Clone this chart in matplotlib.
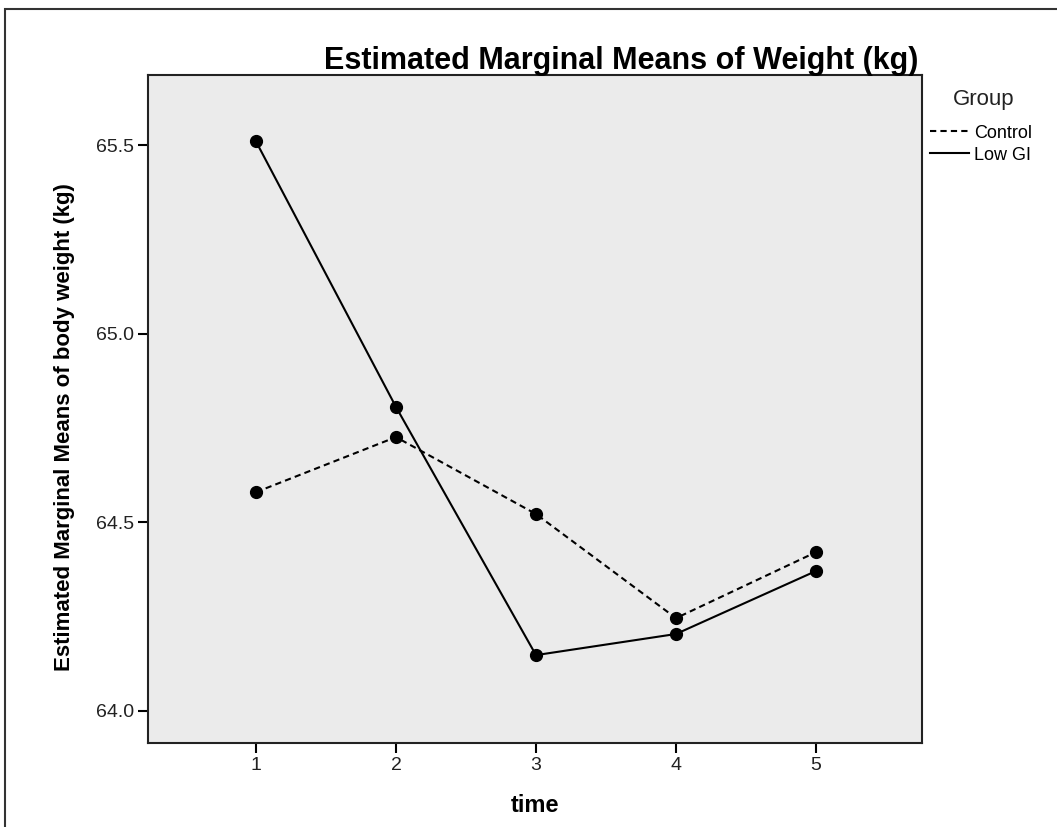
import matplotlib.pyplot as plt
from matplotlib.patches import Rectangle

# estimated marginal means
times = [1, 2, 3, 4, 5]
control = [64.58, 64.726, 64.522, 64.246, 64.421]
low_gi = [65.51, 64.806, 64.148, 64.204, 64.371]
y_ticks = [64.0, 64.5, 65.0, 65.5]

plt.rcParams['font.family'] = ['Liberation Sans', 'DejaVu Sans']

W, H = 1057, 827
fig = plt.figure(figsize=(W / 100, H / 100), dpi=100)

# outer frame of the chart window (runs off the right/bottom edge)
fig.patches.append(Rectangle((5 / W, -0.05), 1.2, 1 - 9 / H + 0.05,
                             transform=fig.transFigure, fill=False,
                             edgecolor='#333333', linewidth=1.5))

ax = fig.add_axes([148 / W, 1 - 743 / H, (922 - 148) / W, (743 - 75) / H])
ax.set_facecolor('#ebebeb')

ax.plot(times, control, color='black', linestyle=(0, (3, 2)), linewidth=1.5,
        marker='o', markersize=8.5, label='Control')
ax.plot(times, low_gi, color='black', linestyle='-', linewidth=1.5,
        marker='o', markersize=8.5, label='Low GI')

ax.set_xlim(0.229, 5.757)
ax.set_ylim(63.915, 65.686)
ax.set_xticks(times)
ax.set_yticks(y_ticks)
ax.set_yticklabels([f"{v:.1f}" for v in y_ticks])
ax.tick_params(direction='out', length=7, width=1.5, labelsize=14,
               labelcolor='#222222', pad=3)
for s in ax.spines.values():
    s.set_linewidth(1.5)
    s.set_color('#222222')

ax.set_xlabel('time', fontsize=17, fontweight='bold')
ax.xaxis.set_label_coords(0.5, -(794 - 743) / 668)
ax.set_ylabel('Estimated Marginal Means of body weight (kg)', fontsize=16,
              fontweight='bold')
ax.yaxis.set_label_coords((75 - 148) / 774, (743 - 427) / 668)

fig.text(918 / W, 1 - 61 / H, 'Estimated Marginal Means of Weight (kg)',
         ha='right', va='center', fontsize=22, fontweight='bold')

# legend title placed on its own, entries below it
fig.text(984 / W, 1 - 100 / H, 'Group', ha='center', va='center',
         fontsize=16, color='#222222')
leg = fig.legend(loc='upper left', bbox_to_anchor=(917 / W, 1 - 112 / H),
                 frameon=False, fontsize=13,
                 handlelength=2.2, handletextpad=0.25, labelspacing=0.27,
                 borderpad=0.2)
for h in leg.legend_handles:
    h.set_marker('')

fig.savefig('out.png', dpi=100)
